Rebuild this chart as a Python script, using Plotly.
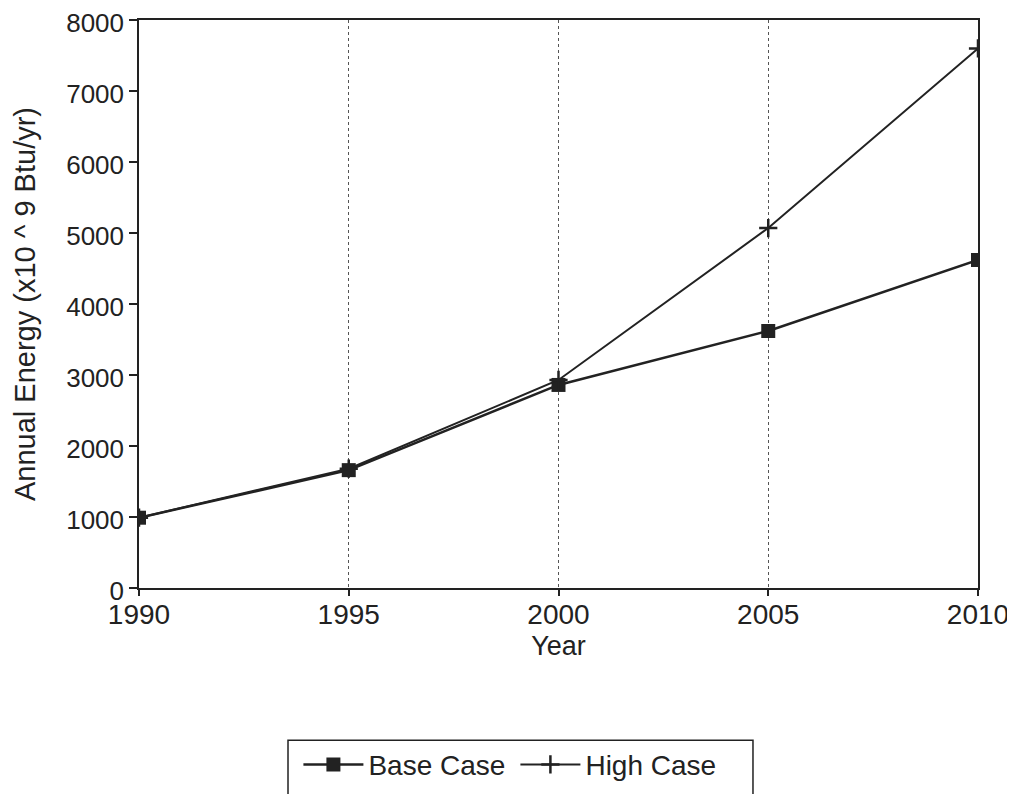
import plotly.graph_objects as go

years = [1990, 1995, 2000, 2005, 2010]
base_case = [990, 1660, 2860, 3620, 4620]
high_case = [990, 1680, 2930, 5070, 7600]
x_ticks = [1990, 1995, 2000, 2005, 2010]
y_ticks = [0, 1000, 2000, 3000, 4000, 5000, 6000, 7000, 8000]

ink = "#222222"
font = "Liberation Sans, Arial, sans-serif"

fig = go.Figure()
fig.add_trace(go.Scatter(
    x=years, y=base_case, name="Base Case", mode="lines+markers",
    line=dict(color=ink, width=2.5),
    marker=dict(symbol="square", size=14, color=ink),
))
fig.add_trace(go.Scatter(
    x=years, y=high_case, name="High Case", mode="lines+markers",
    line=dict(color=ink, width=2),
    marker=dict(symbol="cross-thin", size=13, color=ink, line=dict(width=2.5, color=ink)),
))

# legend frame (extends past the bottom edge, as in the original)
fig.add_shape(type="rect", xref="paper", yref="paper",
              x0=0.1776, x1=0.7318, y0=-0.268, y1=-0.40,
              line=dict(color=ink, width=1.5), fillcolor="rgba(0,0,0,0)", layer="above")

fig.update_layout(
    width=1007, height=786,
    paper_bgcolor="white", plot_bgcolor="white",
    margin=dict(l=131, r=37, t=12, b=206, autoexpand=False),
    font=dict(family=font, size=28, color=ink),
    showlegend=True,
    legend=dict(
        orientation="h", x=0.19, xanchor="left",
        yref="container", y=0.069, yanchor="top",
        borderwidth=0, bgcolor="rgba(0,0,0,0)",
        font=dict(size=28, color=ink), itemwidth=60,
        entrywidth=142, entrywidthmode="pixels",
    ),
)
fig.update_xaxes(
    range=[1990, 2010], tickvals=x_ticks, ticktext=[str(v) for v in x_ticks],
    showgrid=True, gridcolor="#555", griddash="dot", gridwidth=1,
    showline=True, linecolor=ink, linewidth=1.5, mirror=True,
    ticks="outside", ticklen=6, tickcolor=ink, tickwidth=1.5,
    tickfont=dict(size=28), ticklabeloverflow="allow", automargin=False,
    ticklabelstandoff=-5,
    title=dict(text="Year", font=dict(size=27), standoff=7),
    zeroline=False,
)
fig.update_yaxes(
    range=[0, 8000], tickvals=y_ticks,
    showgrid=False,
    showline=True, linecolor=ink, linewidth=1.5, mirror=True,
    ticks="outside", ticklen=8, tickcolor=ink, tickwidth=1.5,
    tickfont=dict(size=26), ticklabeloverflow="allow", automargin=False,
    ticklabelshift=3,
    title=dict(text="Annual Energy (x10 ^ 9 Btu/yr)", font=dict(size=29), standoff=22),
    zeroline=False,
)

fig.write_html("out.html")
